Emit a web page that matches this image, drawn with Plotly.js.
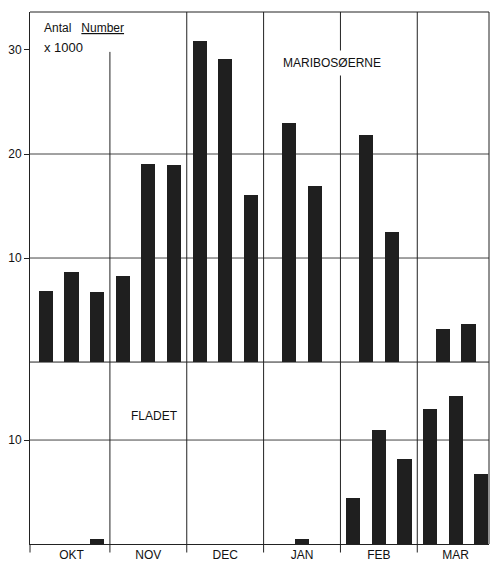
<!DOCTYPE html>
<html>
<head>
<meta charset="utf-8">
<script src="https://cdn.plot.ly/plotly-3.0.1.min.js"></script>
<style>html,body{margin:0;padding:0;background:#fff;}#chart{width:491px;height:561px;}</style>
</head>
<body>
<div id="chart"></div>
<script>
const months = ["OKT", "NOV", "DEC", "JAN", "FEB", "MAR"];

// MARIBOSØERNE (upper panel), number x 1000
const topMonth = ["OKT","OKT","OKT","NOV","NOV","NOV","DEC","DEC","DEC","JAN","JAN","FEB","FEB","MAR","MAR"];
const topSlot  = [0.5, 1.5, 2.5, 0.5, 1.5, 2.5, 0.5, 1.5, 2.5, 1, 2, 1, 2, 1, 2];
const topValue = [6.8, 8.7, 6.7, 8.3, 19.0, 18.9, 30.9, 29.1, 16.1, 23.0, 16.9, 21.8, 12.5, 3.2, 3.7];

// FLADET (lower panel), number x 1000
const botMonth = ["OKT","JAN","FEB","FEB","FEB","MAR","MAR","MAR"];
const botSlot  = [2.5, 1.5, 0.5, 1.5, 2.5, 0.5, 1.5, 2.5];
const botValue = [0.5, 0.5, 4.4, 11.0, 8.2, 13.0, 14.2, 6.7];

const topTicks = [10, 20, 30];
const botTicks = [10];

const SLOTS = 3;
const pos = (m, s) => months.indexOf(m) * SLOTS + s;
const barColor = "#1f1f1f";
const lineColor = "#222";
const font = "Liberation Sans, Arial, sans-serif";
const split = 0.342;

const traces = [
  { type: "bar", x: topMonth.map((m, i) => pos(m, topSlot[i])), y: topValue,
    xaxis: "x", yaxis: "y2", width: 0.55, marker: { color: barColor, line: { width: 0 } },
    hoverinfo: "y" },
  { type: "bar", x: botMonth.map((m, i) => pos(m, botSlot[i])), y: botValue,
    xaxis: "x", yaxis: "y", width: 0.55, marker: { color: barColor, line: { width: 0 } },
    hoverinfo: "y" }
];

const shapes = [];
const ln = (o) => Object.assign({ type: "line", line: { color: lineColor, width: 1 }, layer: "below" }, o);
// horizontal grid lines
topTicks.filter(v => v < 30).forEach(v => shapes.push(ln({ xref: "paper", x0: 0, x1: 1, yref: "y2", y0: v, y1: v, line: { color: "#444", width: 1 } })));
botTicks.forEach(v => shapes.push(ln({ xref: "paper", x0: 0, x1: 1, yref: "y", y0: v, y1: v, line: { color: "#444", width: 1 } })));
// month dividers
for (let k = 1; k < months.length; k++) {
  const xv = k * SLOTS;
  shapes.push(ln({ xref: "x", x0: xv, x1: xv, yref: "paper", y0: -0.016, y1: split }));
  shapes.push(ln({ xref: "x", x0: xv, x1: xv, yref: "paper", y0: split, y1: k === 1 ? 0.925 : 1 }));
}
// outer tick at left end
shapes.push(ln({ xref: "paper", x0: 0, x1: 0, yref: "paper", y0: -0.016, y1: 0 }));
// panel separator, top border, right border
shapes.push(ln({ xref: "paper", x0: 0, x1: 1, yref: "paper", y0: split, y1: split, layer: "above" }));
shapes.push(ln({ xref: "paper", x0: 0, x1: 1, yref: "paper", y0: 1, y1: 1, layer: "above" }));
shapes.push(ln({ xref: "paper", x0: 1, x1: 1, yref: "paper", y0: 0, y1: 1, layer: "above" }));

const layout = {
  width: 491, height: 561,
  margin: { l: 30, r: 2, t: 12, b: 17, pad: 0 },
  paper_bgcolor: "#fff", plot_bgcolor: "#fff",
  showlegend: false,
  bargap: 0,
  font: { family: font, size: 12, color: "#111" },
  xaxis: {
    range: [-0.12, 17.8], anchor: "y", showgrid: false, zeroline: false,
    showline: true, linecolor: lineColor, linewidth: 1, automargin: false,
    tickmode: "array", tickvals: months.map((m, i) => i * SLOTS + SLOTS / 2), ticktext: months,
    ticks: "", ticklabelstandoff: 0, tickfont: { family: font, size: 12, color: "#111" }
  },
  yaxis: {
    domain: [0, split], range: [0, 17.5], anchor: "x", showgrid: false, zeroline: false,
    showline: true, linecolor: lineColor, linewidth: 1,
    tickmode: "array", tickvals: botTicks, ticks: "outside", ticklen: 5, tickcolor: lineColor,
    tickfont: { family: font, size: 12, color: "#111" }
  },
  yaxis2: {
    domain: [split, 1], range: [0, 33.65], anchor: "x", showgrid: false, zeroline: false,
    showline: true, linecolor: lineColor, linewidth: 1,
    tickmode: "array", tickvals: topTicks, ticks: "outside", ticklen: 5, tickcolor: lineColor,
    tickfont: { family: font, size: 12, color: "#111" }
  },
  shapes: shapes,
  annotations: [
    { xref: "paper", yref: "paper", x: 0.026, y: 0.969, xanchor: "left", yanchor: "middle",
      text: "Antal&nbsp;&nbsp;&nbsp;<u>Number</u>", showarrow: false, font: { family: font, size: 12, color: "#111" } },
    { xref: "paper", yref: "paper", x: 0.026, y: 0.934, xanchor: "left", yanchor: "middle",
      text: "x 1000", showarrow: false, font: { family: font, size: 13, color: "#111" } },
    { xref: "paper", yref: "paper", x: 0.658, y: 0.904, xanchor: "center", yanchor: "middle",
      text: "MARIBOSØERNE", showarrow: false, bgcolor: "#fff", borderpad: 5,
      font: { family: font, size: 12, color: "#111" } },
    { xref: "paper", yref: "paper", x: 0.272, y: 0.241, xanchor: "center", yanchor: "middle",
      text: "FLADET", showarrow: false, font: { family: font, size: 12, color: "#111" } }
  ]
};

Plotly.newPlot("chart", traces, layout, { displayModeBar: false, staticPlot: true });
</script>
</body>
</html>
